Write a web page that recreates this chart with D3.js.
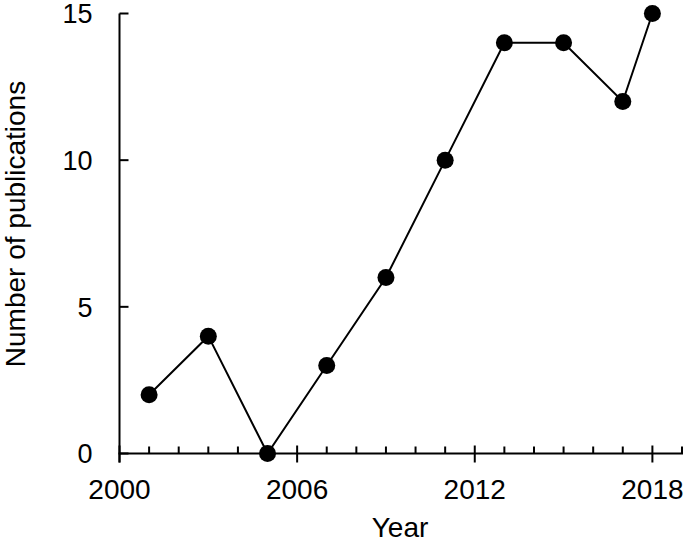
<!DOCTYPE html>
<meta charset="UTF-8">
<style>
	body { margin: 0; background: #fff; }
	text { font-family: Arial, "Liberation Sans", sans-serif; fill: #000; }
	.line { fill: none; stroke: #000; stroke-width: 2px; }
	.axis path, .axis line { stroke: #000; stroke-width: 2px; }
</style>
<body>
<script src="https://d3js.org/d3.v7.min.js"></script>
<script>
	// data
	const years = [2001, 2003, 2005, 2007, 2009, 2011, 2013, 2015, 2017, 2018];
	const pubs = [2, 4, 0, 3, 6, 10, 14, 14, 12, 15];
	const xTicks = [2000, 2006, 2012, 2018];
	const yTicks = [0, 5, 10, 15];

	const width = 685, height = 544;
	const svg = d3.select("body").append("svg")
		.attr("width", width)
		.attr("height", height);

	const x = d3.scaleLinear().domain([2000, 2019]).range([119.5, 682]);
	const y = d3.scaleLinear().domain([0, 15]).range([453.5, 13.5]);

	// x axis: minor ticks inward, major crossing
	const gx = svg.append("g").attr("class", "axis")
		.attr("transform", `translate(0,${y(0)})`);
	gx.append("line").attr("x1", x(2000)).attr("x2", x(2019)).attr("y1", 0).attr("y2", 0)
		.attr("stroke-linecap", "square");
	gx.selectAll("line.minor")
		.data(d3.range(2000, 2020).filter(d => !xTicks.includes(d)))
		.join("line").attr("class", "minor")
		.attr("x1", d => x(d)).attr("x2", d => x(d))
		.attr("y1", 0).attr("y2", -7);
	gx.selectAll("line.major").data(xTicks)
		.join("line").attr("class", "major")
		.attr("x1", d => x(d)).attr("x2", d => x(d))
		.attr("y1", -8).attr("y2", 9);
	gx.selectAll("text").data(xTicks)
		.join("text")
		.attr("x", d => x(d)).attr("y", 45)
		.attr("text-anchor", "middle")
		.style("font-size", "28px")
		.text(d => d);

	// y axis
	const gy = svg.append("g").attr("class", "axis")
		.attr("transform", `translate(${x(2000)},0)`);
	gy.append("line").attr("x1", 0).attr("x2", 0)
		.attr("y1", y(15)).attr("y2", y(0) + 9);
	gy.selectAll("line.tick").data(yTicks)
		.join("line").attr("class", "tick")
		.attr("x1", 0).attr("x2", 9)
		.attr("y1", d => y(d)).attr("y2", d => y(d));
	gy.selectAll("text").data(yTicks)
		.join("text")
		.attr("x", -27).attr("y", d => y(d))
		.attr("dy", "0.36em")
		.attr("text-anchor", "end")
		.style("font-size", "27px")
		.text(d => d);

	// series
	const pts = years.map((d, i) => ({ year: d, value: pubs[i] }));
	svg.append("path").datum(pts)
		.attr("class", "line")
		.attr("d", d3.line().x(d => x(d.year)).y(d => y(d.value)));
	svg.selectAll("circle").data(pts)
		.join("circle")
		.attr("cx", d => x(d.year)).attr("cy", d => y(d.value))
		.attr("r", 8.5)
		.attr("fill", "#000");

	// titles
	svg.append("text")
		.attr("x", 400).attr("y", 537)
		.attr("text-anchor", "middle")
		.style("font-size", "28px")
		.text("Year");
	svg.append("text")
		.attr("transform", "translate(25,224) rotate(-90)")
		.attr("text-anchor", "middle")
		.style("font-size", "28px")
		.text("Number of publications");
</script>
</body>
